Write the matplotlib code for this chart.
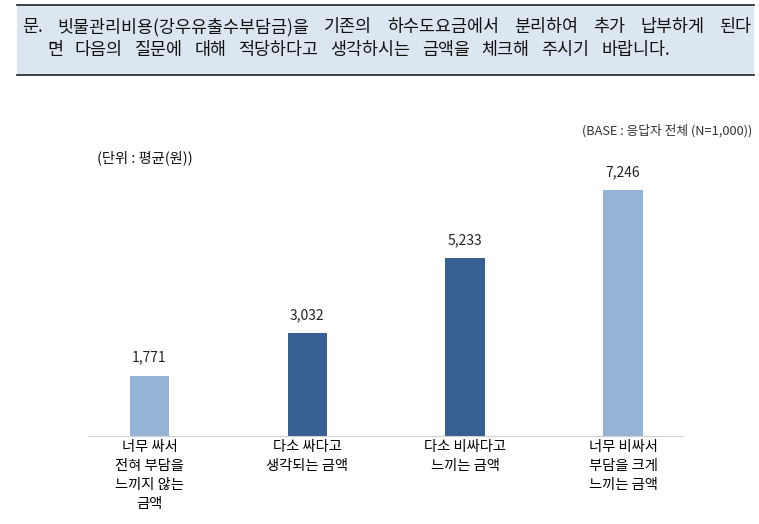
import matplotlib
matplotlib.use('Agg')
import matplotlib.pyplot as plt
from matplotlib.patches import Rectangle

plt.rcParams['font.family'] = ['Noto Sans CJK KR', 'DejaVu Sans']

# 데이터
categories = ['너무 싸서\n전혀 부담을\n느끼지 않는\n금액',
              '다소 싸다고\n생각되는 금액',
              '다소 비싸다고\n느끼는 금액',
              '너무 비싸서\n부담을 크게\n느끼는 금액']
values = [1771, 3032, 5233, 7246]
bar_colors = ['#95b3d7', '#376092', '#376092', '#95b3d7']

title_line1 = '문. 빗물관리비용(강우유출수부담금)을 기존의 하수도요금에서 분리하여 추가 납부하게 된다'
title_line2 = '면 다음의 질문에 대해 적당하다고 생각하시는 금액을 체크해 주시기 바랍니다.'
base_note = '(BASE : 응답자 전체 (N=1,000))'
unit_note = '(단위 : 평균(원))'

W, H = 759, 524
fig = plt.figure(figsize=(W / 100, H / 100), dpi=100)
renderer = fig.canvas.get_renderer()

# 상단 질문 박스
fig.patches.append(Rectangle((17 / W, 1 - 75 / H), (754 - 17) / W, 70 / H,
                             transform=fig.transFigure, facecolor='#dce6f1',
                             edgecolor='none', zorder=0))
for yy in (5, 75):
    fig.add_artist(plt.Line2D([17 / W, 754 / W], [1 - yy / H, 1 - yy / H],
                              transform=fig.transFigure, color='#222222', lw=1.2))


def spread_words(line, y, x0, x1, size):
    # 단어를 x0~x1 사이에 균등 간격으로 배치 (양쪽 정렬)
    words = line.split(' ')
    txts = [fig.text(0, 1 - y / H, w, fontsize=size, va='center', color='#111111')
            for w in words]
    widths = [t.get_window_extent(renderer).width for t in txts]
    gap = (x1 - x0 - sum(widths)) / (len(words) - 1)
    x = x0
    for t, wd in zip(txts, widths):
        t.set_x(x / W)
        x += wd + gap


spread_words(title_line1, 27, 22, 751, 12.5)
spread_words(title_line2, 50, 47, 670, 12.5)

fig.text(752 / W, 1 - 131 / H, base_note, fontsize=9.2, ha='right', va='center', color='#333333')
fig.text(97 / W, 1 - 158 / H, unit_note, fontsize=10.3, ha='left', va='center', color='#111111')

# 막대 그래프
ax = fig.add_axes([88 / W, (H - 436) / H, (683 - 88) / W, 271.6 / H])
xs = range(len(values))
ax.bar(xs, values, width=0.25, color=bar_colors)
for xi, v in zip(xs, values):
    ax.annotate(f'{v:,}', (xi, v), xytext=(0, 8), textcoords='offset points',
                ha='center', va='bottom', fontsize=10, color='#222222')
ax.set_xlim(-0.39, 3.38)
ax.set_ylim(0, 8000)
for s in ('top', 'right', 'left'):
    ax.spines[s].set_visible(False)
ax.spines['bottom'].set_color('#d0d0d0')
ax.set_yticks([])
ax.set_xticks(list(xs))
ax.set_xticklabels(categories, fontsize=10.3, linespacing=1.45, va='top')
ax.tick_params(axis='x', length=0, pad=3)

fig.savefig('out.png', dpi=100)
